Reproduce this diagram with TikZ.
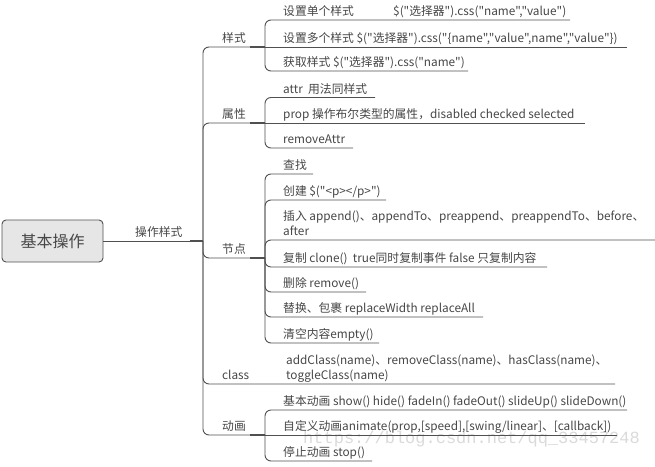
\documentclass[tikz,border=0pt]{standalone}
\usepackage{fontspec}
\setmainfont{Noto Sans CJK SC}[Ligatures=TeXOff]
\newfontfamily\wmfont{Liberation Mono}
\definecolor{linec}{HTML}{505050}
\definecolor{txtc}{HTML}{464646}
\definecolor{rootfill}{HTML}{E6E6E6}
\definecolor{wmc}{HTML}{DADADA}
\begin{document}
\begin{tikzpicture}[x=1pt,y=-1pt,
  conn/.style={draw=linec,line width=0.9pt,rounded corners=6pt},
  thk/.style={draw=linec,line width=2pt},
  txt/.style={anchor=base west,inner sep=0pt,text=txtc,font=\fontsize{11.8}{15}\selectfont},
  rootbox/.style={draw=linec,line width=0.9pt,fill=rootfill,rounded corners=4pt,minimum width=101pt,minimum height=42pt,inner sep=0pt,text=txtc,font=\fontsize{16}{18}\selectfont}]
\useasboundingbox (0,0) rectangle (655,466);
% watermark (behind)
\node[anchor=base west,inner sep=0pt,text=wmc,font=\wmfont\fontsize{17}{17}\selectfont] (wm) at (303,443) {https://blog.csdn.net/qq\_33457248};
% root
\node[rootbox] (root) at (52.5,241) {基本操作};
\coordinate (J0) at (203,241);
\draw[conn] (root.east) -- (J0);
\draw[thk] (190,241) -- (J0);
\node[txt] (l0) at (135,236.5) {操作样式};
% branch coordinates
\coordinate (SA) at (265,47);
\coordinate (SB) at (265,123);
\coordinate (SC) at (265,258);
\coordinate (SE) at (265,435);
\coordinate (CE) at (615,384);
% trunk branches
\draw[conn] (J0) -- (203,47) -- (SA);
\draw[conn] (J0) -- (203,123) -- (SB);
\draw[conn] (J0) -- (203,258) -- (SC);
\draw[conn] (J0) -- (203,384) -- (CE);
\draw[conn] (J0) -- (203,435) -- (SE);
\draw[thk] (250,47) -- (SA);
\draw[thk] (250,123) -- (SB);
\draw[thk] (250,258) -- (SC);
\draw[thk] (250,435) -- (SE);
% branch labels
\node[txt] (bA) at (222,42.5) {样式};
\node[txt] (bB) at (222,118.5) {属性};
\node[txt] (bC) at (222,253.5) {节点};
\node[txt] (bD) at (222,379.5) {class};
\node[txt] (bE) at (222,430.5) {动画};
% 样式 children
\draw[conn] (SA) -- (265,20) -- (570,20);
\draw[conn] (SA) -- (627,47);
\draw[conn] (SA) -- (265,71) -- (468,71);
\node[txt] (a1) at (283,15.5) {\makebox[110pt][l]{设置单个样式}\$("选择器").css("name","value")};
\node[txt] (a2) at (283,42.5) {设置多个样式 \$("选择器").css("\{name","value",name","value"\})};
\node[txt] (a3) at (283,66.5) {获取样式 \$("选择器").css("name")};
% 属性 children
\draw[conn] (SB) -- (265,97.5) -- (375,97.5);
\draw[conn] (SB) -- (585,123);
\draw[conn] (SB) -- (265,148) -- (353,148);
\node[txt] (b1) at (283,93) {attr\ \ 用法同样式};
\node[txt] (b2) at (283,118.5) {prop 操作布尔类型的属性，disabled checked selected};
\node[txt] (b3) at (283,143.5) {removeAttr};
% 节点 children
\draw[conn] (SC) -- (265,174) -- (313,174);
\draw[conn] (SC) -- (265,200) -- (386,200);
\draw[conn] (SC) -- (265,240) -- (655,240);
\draw[conn] (SC) -- (265,267) -- (547,267);
\draw[conn] (SC) -- (265,292) -- (366,292);
\draw[conn] (SC) -- (265,317) -- (483,317);
\draw[conn] (SC) -- (265,343) -- (379,343);
\node[txt] (c1) at (283,169.5) {查找};
\node[txt] (c2) at (283,195.5) {创建 \$("<p></p>")};
\node[txt] (c3a) at (283,220.5) {插入 append()、appendTo、preappend、preappendTo、before、};
\node[txt] (c3b) at (283,235.5) {after};
\node[txt] (c4) at (283,262.5) {复制 clone()\ \ true同时复制事件 false 只复制内容};
\node[txt] (c5) at (283,287.5) {删除 remove()};
\node[txt] (c6) at (283,312.5) {替换、包裹 replaceWidth replaceAll};
\node[txt] (c7) at (283,338.5) {清空内容empty()};
% class child
\node[txt] (d1a) at (286,364.5) {addClass(name)、removeClass(name)、hasClass(name)、};
\node[txt] (d1b) at (286,379.5) {toggleClass(name)};
% 动画 children
\draw[conn] (SE) -- (265,410) -- (627,410);
\draw[conn] (SE) -- (617,435);
\draw[conn] (SE) -- (265,461) -- (372,461);
\node[txt] (e1) at (283,405.5) {基本动画 show() hide() fadeIn() fadeOut() slideUp() slideDown()};
\node[txt] (e2) at (283,430.5) {自定义动画animate(prop,[speed],[swing/linear]、[callback])};
\node[txt] (e3) at (283,456.5) {停止动画 stop()};
\end{tikzpicture}
\end{document}
